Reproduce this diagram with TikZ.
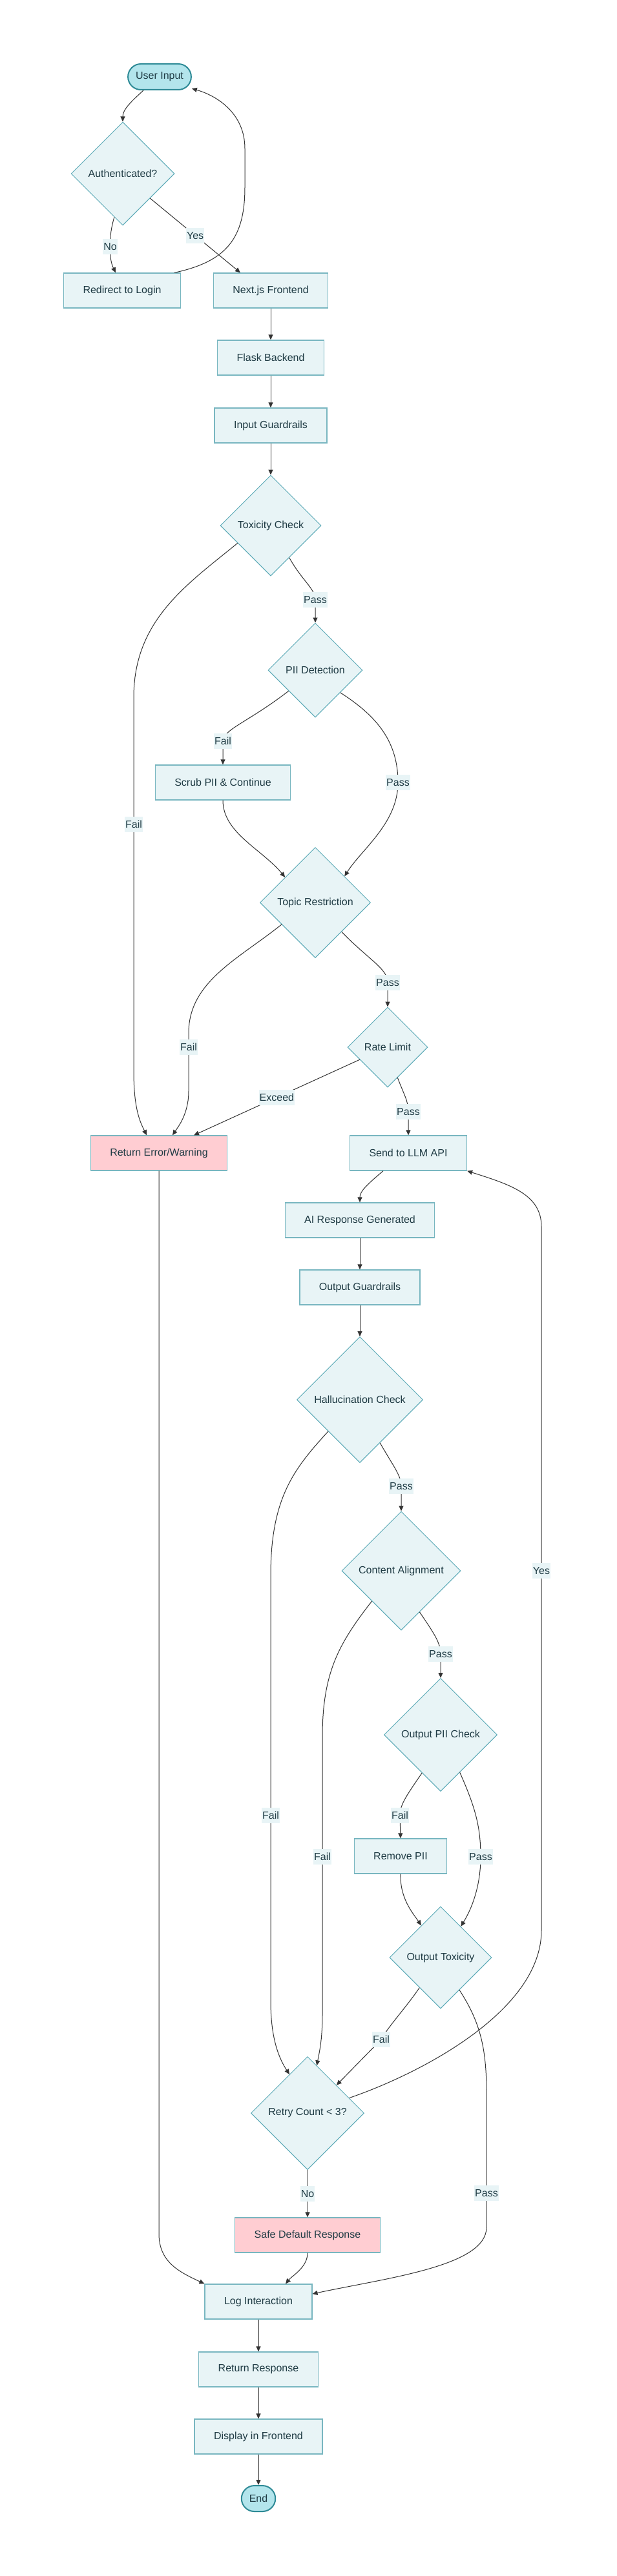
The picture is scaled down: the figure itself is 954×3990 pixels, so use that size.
\documentclass[tikz,border=0pt]{standalone}
\usepackage{fontspec}
\setmainfont{Liberation Sans}
\usetikzlibrary{shapes.geometric,arrows.meta}
\definecolor{boxfill}{HTML}{E8F4F6}
\definecolor{boxline}{HTML}{78B6C0}
\definecolor{dmline}{HTML}{5AA9B6}
\definecolor{termfill}{HTML}{B3E5EC}
\definecolor{termline}{HTML}{2E8A96}
\definecolor{errfill}{HTML}{FFCDD2}
\definecolor{txt}{HTML}{1F3B44}
\definecolor{linkcol}{HTML}{333333}

\begin{document}
\begin{tikzpicture}[x=1pt,y=-1pt,
  every node/.style={font=\fontsize{16pt}{19pt}\selectfont, text=txt},
  proc/.style={rectangle, fill=boxfill, draw=boxline, line width=1.3pt, minimum height=54pt, inner xsep=30pt},
  term/.style={rectangle, rounded corners=20pt, fill=termfill, draw=termline, line width=2pt, minimum height=40pt, inner xsep=12pt},
  decision/.style={diamond, aspect=1, minimum size=#1, inner sep=0pt, fill=boxfill, draw=dmline, line width=1pt},
  lbl/.style={fill=boxfill, inner xsep=1pt, inner ysep=0pt, minimum height=24pt},
  flow/.style={draw=linkcol, line width=1pt, -{Triangle[length=8pt,width=7pt]}}]

\useasboundingbox (0,0) rectangle (954,3990);
\fill[white] (0,0) rectangle (954,3990);

% input side
\node[term] (start) at (247,119) {User Input};
\node[decision=160] (auth) at (190,269) {Authenticated?};
\node[proc] (login) at (189,450) {Redirect to Login};
\node[proc] (next) at (419,450) {Next.js Frontend};
\node[proc] (flask) at (419,554) {Flask Backend};
\node[proc] (inguard) at (419,659) {Input Guardrails};
\node[decision=156] (tox) at (419,814) {Toxicity Check};
\node[decision=146] (pii) at (488,1038) {PII Detection};
\node[proc] (scrub) at (345,1212) {Scrub PII \& Continue};
\node[decision=171] (topic) at (488,1398) {Topic Restriction};
\node[decision=124] (rate) at (600,1622) {Rate Limit};
\node[proc, fill=errfill] (err) at (246,1786) {Return Error/Warning};
\node[proc] (llm) at (632,1786) {Send to LLM API};

% output side
\node[proc] (airesp) at (557,1890) {AI Response Generated};
\node[proc] (outguard) at (557,1994) {Output Guardrails};
\node[decision=195] (halluc) at (557,2168) {Hallucination Check};
\node[decision=184] (content) at (621,2433) {Content Alignment};
\node[decision=175] (opii) at (682,2687) {Output PII Check};
\node[proc] (rmpii) at (620,2875) {Remove PII};
\node[decision=158] (otox) at (682,3032) {Output Toxicity};
\node[decision=175] (retry) at (476,3273) {Retry Count < 3?};
\node[proc, fill=errfill] (safe) at (476,3462) {Safe Default Response};
\node[proc] (log) at (400,3565) {Log Interaction};
\node[proc] (ret) at (400,3670) {Return Response};
\node[proc] (disp) at (400,3774) {Display in Frontend};
\node[term] (finish) at (400,3870) {End};

\draw[flow] ([xshift=-25pt]start.south) .. controls (202,158) and (190,170) .. (auth.north);
\draw[flow] (auth.-101) .. controls (168,365) and (168,400) .. ([xshift=-10pt]login.north) node[lbl,pos=0.5]{No};
\draw[flow] (auth.-42) -- ([xshift=-47pt]next.north) node[lbl,pos=0.5]{Yes};
\draw[flow] ([xshift=81pt]login.north) .. controls (350,405) and (379,370) .. (379,290) -- (379,230) .. controls (379,175) and (335,148) .. (start.-20);
\draw[flow] (next.south) -- (flask.north);
\draw[flow] (flask.south) -- (inguard.north);
\draw[flow] (inguard.south) -- (tox.north);

\draw[flow] (tox.-60) .. controls (468,900) and (488,912) .. (488,929) node[lbl]{Pass} -- (pii.north);
\draw[flow] (tox.-152) .. controls (290,905) and (207,960) .. (207,1080) -- (207,1277) node[lbl]{Fail} -- (207,1660) .. controls (207,1720) and (218,1740) .. ([xshift=-19pt]err.north);
\draw[flow] (pii.-142) .. controls (385,1118) and (345,1130) .. (345,1148) node[lbl]{Fail} -- (scrub.north);
\draw[flow] (pii.-42) .. controls (585,1110) and (616,1150) .. (616,1212) node[lbl]{Pass} .. controls (616,1275) and (560,1315) .. (topic.42);
\draw[flow] (scrub.south) .. controls (345,1290) and (405,1315) .. (topic.140);
\draw[flow] (topic.-147) .. controls (370,1485) and (292,1520) .. (292,1600) -- (292,1622) node[lbl]{Fail} -- (292,1690) .. controls (292,1725) and (276,1745) .. ([xshift=21pt]err.north);
\draw[flow] (topic.-48) .. controls (572,1488) and (600,1500) .. (600,1522) node[lbl]{Pass} -- (rate.north);
\draw[flow] (rate.-156) -- ([xshift=54pt]err.north) node[lbl,pos=0.5]{Exceed};
\draw[flow] (rate.-72) .. controls (625,1695) and (632,1705) .. (632,1722) node[lbl]{Pass} -- (llm.north);
\draw[flow] (err.south) -- (246,3460) .. controls (246,3505) and (280,3520) .. (log.north west);

\draw[flow] ([xshift=-39pt]llm.south) .. controls (568,1835) and (557,1845) .. (airesp.north);
\draw[flow] (airesp.south) -- (outguard.north);
\draw[flow] (outguard.south) -- (halluc.north);
\draw[flow] (halluc.-135) .. controls (455,2275) and (419,2320) .. (419,2440) -- (419,2812) node[lbl]{Fail} -- (419,3100) .. controls (419,3160) and (433,3190) .. (retry.115);
\draw[flow] (halluc.-65) .. controls (608,2270) and (621,2285) .. (621,2302) node[lbl]{Pass} -- (content.north);
\draw[flow] (content.-134) .. controls (525,2545) and (499,2590) .. (499,2690) -- (499,2876) node[lbl]{Fail} -- (499,3120) .. controls (499,3160) and (494,3180) .. (retry.79);
\draw[flow] (content.-66) .. controls (672,2530) and (682,2545) .. (682,2562) node[lbl]{Pass} -- (opii.north);
\draw[flow] (opii.-116) .. controls (630,2780) and (619,2795) .. (619,2812) node[lbl]{Fail} -- (rmpii.north);
\draw[flow] (opii.-63) .. controls (736,2800) and (744,2830) .. (744,2876) node[lbl]{Pass} .. controls (744,2925) and (728,2960) .. (otox.57);
\draw[flow] (rmpii.south) .. controls (619,2940) and (638,2962) .. (otox.121);
\draw[flow] (otox.-125) .. controls (628,3110) and (600,3140) .. (590,3159) node[lbl]{Fail} -- (retry.44);
\draw[flow] (otox.-60) .. controls (742,3130) and (753,3170) .. (753,3240) -- (753,3397) node[lbl]{Pass} -- (753,3450) .. controls (753,3510) and (600,3528) .. ([yshift=12pt]log.east);
\draw[flow] (retry.20) .. controls (650,3212) and (838,3115) .. (838,2990) -- (838,2433) node[lbl]{Yes} -- (838,1900) .. controls (838,1850) and (790,1835) .. (llm.south east);
\draw[flow] (retry.south) -- (safe.north) node[lbl,pos=0.5]{No};
\draw[flow] (safe.south) .. controls (476,3512) and (452,3525) .. ([xshift=42pt]log.north);

\draw[flow] (log.south) -- (ret.north);
\draw[flow] (ret.south) -- (disp.north);
\draw[flow] (disp.south) -- (finish.north);
\end{tikzpicture}
\end{document}
